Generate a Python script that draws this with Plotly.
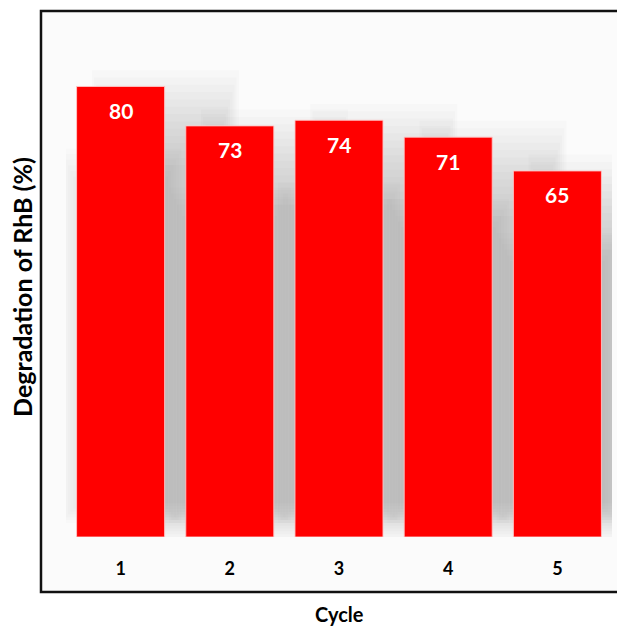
import plotly.graph_objects as go

# Photocatalytic reuse test: RhB degradation per cycle
cycles = ["1", "2", "3", "4", "5"]
degradation = [80, 73, 74, 71, 65]

BAR_RED = "#ff0000"
FONT = "Lato"

fig = go.Figure()

fig.add_trace(go.Bar(
    x=list(range(len(cycles))),
    y=degradation,
    marker=dict(color=BAR_RED, line=dict(color="rgba(255,200,200,0.9)", width=1)),
    width=0.806,
    hoverinfo="skip",
))

# value labels just inside the top of each bar
annotations = []
for i, v in enumerate(degradation):
    annotations.append(dict(
        x=i, y=v, xref="x", yref="y", text=str(v), showarrow=False,
        yanchor="middle", yshift=-24,
        font=dict(family=FONT, size=21, color="white", weight="bold"),
    ))

# axis titles
annotations.append(dict(
    x=0.5, y=-0.146, xref="paper", yref="paper", text="Cycle", showarrow=False,
    xanchor="center", yanchor="middle",
    font=dict(family=FONT, size=20, color="black", weight="bold"),
))
annotations.append(dict(
    x=-0.081, y=0.475, xref="paper", yref="paper", text="Degradation of RhB (%)",
    showarrow=False, textangle=-90, xanchor="center", yanchor="middle",
    font=dict(family=FONT, size=25, color="black", weight="bold"),
))

shapes = []
# chart frame (light fill, heavy black border)
shapes.append(dict(
    type="rect", xref="paper", yref="paper",
    x0=-0.0458, x1=1.3, y0=-0.1046, y1=1.0,
    line=dict(color="#111111", width=2.5), fillcolor="#fbfbfb", layer="below",
))


def soft_rect(x0, x1, y0, y1, layers=14, dx=0.02, dy=1.3, dy_low=0.5, alpha=0.028):
    """Stack of slightly growing translucent rectangles giving a blurred shadow."""
    out = []
    for k in range(layers):
        out.append(dict(
            type="rect", xref="x", yref="y",
            x0=x0 - k * dx, x1=x1 + k * dx, y0=y0 - k * dy_low, y1=y1 + k * dy,
            line=dict(width=0), fillcolor="rgb(110,110,110)", opacity=alpha,
            layer="below",
        ))
    return out


half = 0.403
for i, v in enumerate(degradation):
    # drop shadow cast up and to the right
    shapes += soft_rect(i - half + 0.4, i + half + 0.42, 6, v - 14)
    # faint glow hugging the bar itself
    shapes += soft_rect(i - half + 0.02, i + half - 0.02, 6, v - 18,
                        layers=8, dx=0.025, dy=1.0, alpha=0.02)

fig.update_layout(
    width=617, height=626,
    margin=dict(l=66, r=5, t=11, b=89),
    paper_bgcolor="white",
    plot_bgcolor="rgba(0,0,0,0)",
    showlegend=False,
    bargap=0.194,
    xaxis=dict(
        range=[-0.5, 4.5],
        tickvals=list(range(len(cycles))), ticktext=cycles,
        ticks="outside", ticklen=15, tickcolor="rgba(0,0,0,0)",
        showline=False, showgrid=False, zeroline=False,
        tickfont=dict(family=FONT, size=18, color="black", weight="bold"),
    ),
    yaxis=dict(
        range=[0, 93.4], visible=False, showgrid=False, zeroline=False,
    ),
    annotations=annotations,
    shapes=shapes,
)

fig.write_html("out.html")
